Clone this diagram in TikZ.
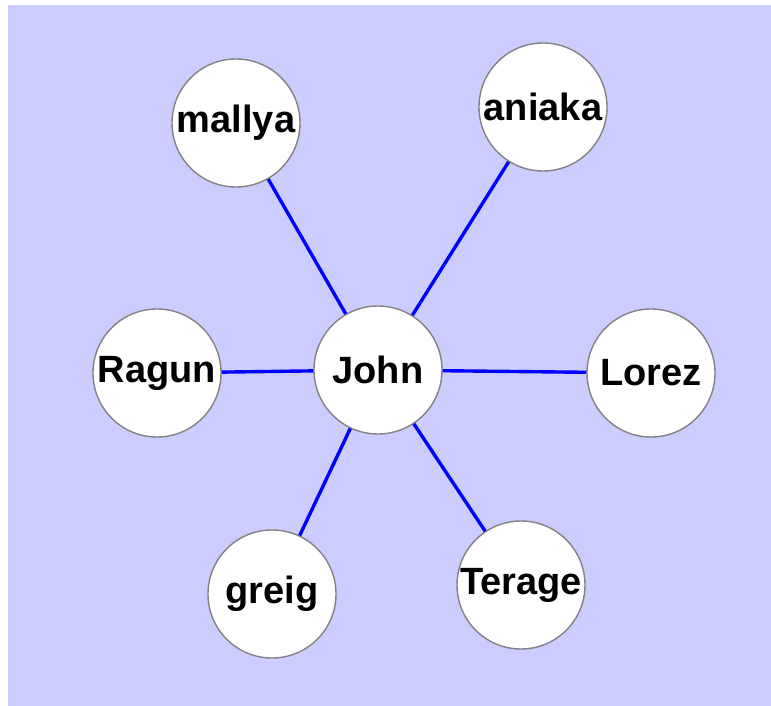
\documentclass[tikz,border=0pt]{standalone}
\usepackage{fontspec}
\setmainfont{Liberation Sans}
\usepackage{xcolor}
\usetikzlibrary{positioning}

\definecolor{bgblue}{RGB}{204,204,255}
\definecolor{ringgray}{RGB}{130,130,130}

\begin{document}
\begin{tikzpicture}[
  x=1pt, y=-1pt,
  person/.style={circle, draw=ringgray, line width=1.4pt, fill=white, minimum size=128pt, inner sep=0pt, font=\bfseries\fontsize{38}{40}\selectfont},
  link/.style={draw=blue, line width=3.4pt}
]

% Background
\useasboundingbox (0,0) rectangle (771,706);
\fill[bgblue] (8,5) rectangle (771,706);

% Center
\node[person] (john) at (378,370) {John};

% Friends
\node[person] (mallya) at (236,123) {mallya};
\node[person] (aniaka) at (543,107) {aniaka};
\node[person] (ragun) at (157,373) {Ragun};
\node[person] (lorez) at (651,373) {Lorez};
\node[person] (greig) at (272,594) {greig};
\node[person] (terage) at (521,585) {Terage};

% Links
\draw[link] (john) -- (mallya);
\draw[link] (john) -- (aniaka);
\draw[link] (john) -- (ragun);
\draw[link] (john) -- (lorez);
\draw[link] (john) -- (greig);
\draw[link] (john) -- (terage);

\end{tikzpicture}
\end{document}
